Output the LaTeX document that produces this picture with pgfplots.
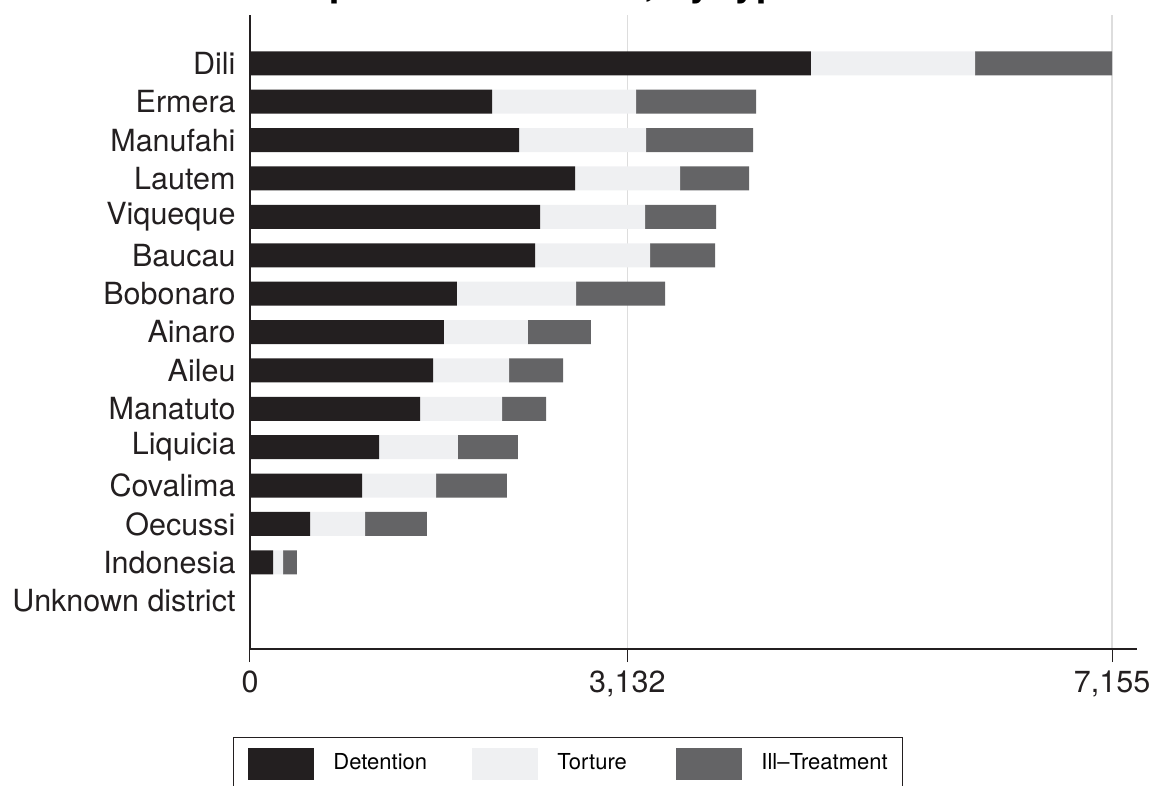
\documentclass[border=0pt]{standalone}
\usepackage{fontspec}
\setmainfont{TeX Gyre Heros}
\usepackage{pgfplots}
\usepackage{pgfplotstable}
\pgfplotsset{compat=1.18}

\definecolor{cdet}{HTML}{231F20}
\definecolor{ctor}{HTML}{EFF0F2}
\definecolor{cill}{HTML}{646466}
\definecolor{cgrid}{HTML}{DDDDDD}

% reported violations per district
\pgfplotstableread{
idx det  tor  ill
0   4656 1362 1137
1   2009 1195 996
2   2233 1054 888
3   2698 871  573
4   2407 872  589
5   2366 954  540
6   1718 988  739
7   1610 697  523
8   1519 631  448
9   1411 681  365
10  1071 655  498
11  930  614  589
12  498  457  514
13  191  83   116
14  0    0    0
}\violations

\begin{document}
\begin{tikzpicture}
\clip (0,0) rectangle (461.2pt,314pt);
\useasboundingbox (0,0) rectangle (461.2pt,314pt);
% title, cut off at the top edge as in the original
\node[anchor=base west, font=\bfseries\fontsize{15.6}{18}\selectfont] at (108.4pt,315.6pt) {Reported violations, by type};
\begin{axis}[
    at={(100pt,54.4pt)}, anchor=south west,
    scale only axis, width=354.8pt, height=253.6pt,
    xbar stacked, bar width=9.6pt,
    xmin=0, xmax=7362,
    ymin=-1.26, ymax=15.26, y dir=reverse,
    axis x line*=bottom, axis y line*=left,
    axis line style={draw=cdet, line width=0.6pt},
    xtick={0,3132,7155}, xticklabels={0,{3,132},{7,155}},
    ytick={0,...,14},
    yticklabels={Dili,Ermera,Manufahi,Lautem,Viqueque,Baucau,Bobonaro,Ainaro,Aileu,Manatuto,Liquicia,Covalima,Oecussi,Indonesia,Unknown district},
    ytick style={draw=none},
    xtick style={draw=cdet, line width=0.4pt},
    xtick align=outside, ytick align=inside, major tick length=5.2pt,
    xmajorgrids, grid style={draw=cgrid, line width=0.6pt},
    tick label style={font=\fontsize{12.2}{14}\selectfont, text=cdet},
    yticklabel style={anchor=east, inner sep=0pt, xshift=-5.6pt},
    xticklabel style={anchor=north, inner sep=0pt, yshift=-3.2pt},
    legend columns=3,
    legend style={
        at={(-0.01917,-0.1388)}, anchor=north west,
        draw=cdet, line width=0.4pt,
        inner xsep=6pt, inner ysep=4pt,
        nodes={inner sep=0pt},
        font=\fontsize{8.8}{10}\selectfont,
        cells={anchor=west},
        /tikz/every odd column/.style={column sep=7.6pt},
    },
    legend image code/.code={\fill[#1] (0pt,-6.4pt) rectangle (26.4pt,6.4pt);},
]
\addplot[fill=cdet, draw=none] table[x=det, y=idx] {\violations};
\addlegendentry{\makebox[55.6pt][l]{Detention}}
\addplot[fill=ctor, draw=none] table[x=tor, y=idx] {\violations};
\addlegendentry{\makebox[47.6pt][l]{Torture}}
\addplot[fill=cill, draw=none] table[x=ill, y=idx] {\violations};
\addlegendentry{Ill--Treatment}
\end{axis}
\end{tikzpicture}
\end{document}
